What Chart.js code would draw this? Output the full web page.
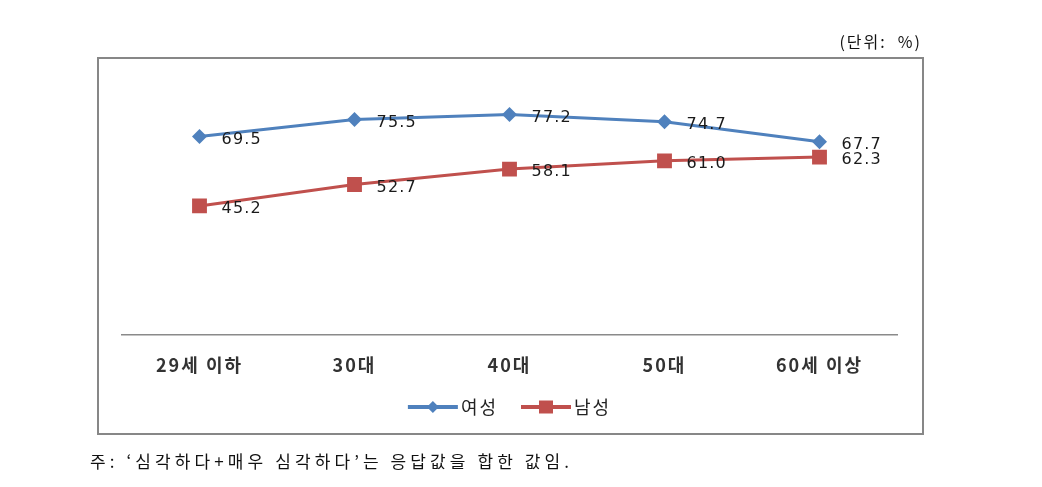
<!DOCTYPE html>
<html>
<head>
<meta charset="utf-8">
<script src="https://cdn.jsdelivr.net/npm/chart.js@4.4.1/dist/chart.umd.min.js"></script>
<style>
  html, body { margin: 0; padding: 0; background: #fff; }
  #wrap { position: relative; width: 1042px; height: 487px; }
  #c { position: absolute; left: 0; top: 0; }
  #box { position: absolute; left: 97px; top: 57px; width: 823px; height: 374px; border: 2px solid #878787; pointer-events: none; }
  #unit { position: absolute; right: 120px; top: 29px; font: 16px "Noto Sans CJK KR", sans-serif; color: #111; letter-spacing: 2px; }
  #note { position: absolute; left: 90px; top: 448px; font: 17px "Noto Sans CJK KR", serif; color: #111; letter-spacing: 4.1px; }
</style>
</head>
<body>
<div id="wrap">
  <canvas id="c" width="1042" height="487"></canvas>
  <div id="box"></div>
  <div id="unit">(단위:&nbsp; %)</div>
  <div id="note">주: ‘심각하다+매우 심각하다’는 응답값을 합한 값임.</div>
</div>
<script>
const categories = ['29세 이하', '30대', '40대', '50대', '60세 이상'];
const women = [69.5, 75.5, 77.2, 74.7, 67.7];
const men = [45.2, 52.7, 58.1, 61.0, 62.3];

const blue = '#4F81BD';
const red = '#C0504D';

// letter spacing so the text looks as wide as the reference
const spacing = {
  id: 'spacing',
  beforeUpdate(chart) { chart.ctx.letterSpacing = '2px'; },
  beforeDraw(chart) { chart.ctx.letterSpacing = '2px'; }
};

// value labels to the right of each point
const valueLabels = {
  id: 'valueLabels',
  afterDatasetsDraw(chart) {
    const ctx = chart.ctx;
    ctx.save();
    ctx.letterSpacing = '1.2px';
    ctx.font = '16px "DejaVu Sans", Verdana, sans-serif';
    ctx.fillStyle = '#1a1a1a';
    ctx.textBaseline = 'middle';
    ctx.textAlign = 'left';
    chart.data.datasets.forEach((ds, i) => {
      chart.getDatasetMeta(i).data.forEach((pt, j) => {
        ctx.fillText(ds.data[j].toFixed(1), pt.x + 22, pt.y + 3);
      });
    });
    ctx.restore();
  }
};

// legend: line with the marker in its middle (Excel style)
const legendMarks = {
  id: 'legendMarks',
  afterDraw(chart) {
    const lg = chart.legend;
    if (!lg || !lg.legendHitBoxes) return;
    const ctx = chart.ctx;
    lg.legendHitBoxes.forEach((hb, i) => {
      const ds = chart.data.datasets[i];
      const x0 = hb.left;
      const cx = x0 + 25;
      const cy = hb.top + hb.height / 2;
      ctx.save();
      ctx.strokeStyle = ds.borderColor;
      ctx.lineWidth = 4;
      ctx.beginPath();
      ctx.moveTo(x0, cy);
      ctx.lineTo(x0 + 50, cy);
      ctx.stroke();
      ctx.fillStyle = ds.borderColor;
      ctx.beginPath();
      if (ds.pointStyle === 'rectRot') {
        ctx.moveTo(cx - 6, cy); ctx.lineTo(cx, cy - 6); ctx.lineTo(cx + 6, cy); ctx.lineTo(cx, cy + 6);
        ctx.closePath();
      } else {
        ctx.rect(cx - 7, cy - 6.5, 14, 13);
      }
      ctx.fill();
      ctx.restore();
    });
  }
};

new Chart(document.getElementById('c'), {
  type: 'line',
  data: {
    labels: categories,
    datasets: [
      {
        label: '여성',
        data: women,
        borderColor: blue,
        backgroundColor: blue,
        borderWidth: 3,
        pointStyle: 'rectRot',
        pointRadius: 7.5,
        pointBorderWidth: 0,
        pointBackgroundColor: blue,
        tension: 0
      },
      {
        label: '남성',
        data: men,
        borderColor: red,
        backgroundColor: red,
        borderWidth: 3,
        pointStyle: 'rect',
        pointRadius: 10.5,
        pointBorderWidth: 0,
        pointBackgroundColor: red,
        tension: 0
      }
    ]
  },
  options: {
    responsive: false,
    animation: false,
    events: [],
    layout: { padding: { left: 122, right: 145, top: 78, bottom: 62 } },
    scales: {
      x: {
        offset: true,
        grid: { display: false, drawTicks: false },
        border: { display: true, color: '#8a8a8a', width: 1.5 },
        ticks: {
          padding: 19,
          color: '#333',
          font: { family: '"Noto Sans CJK KR", sans-serif', size: 18, weight: 'bold' }
        },
        afterFit(s) { s.height = 40; }
      },
      y: {
        display: false,
        min: 0,
        max: 90
      }
    },
    plugins: {
      legend: {
        position: 'bottom',
        maxHeight: 50,
        labels: {
          boxWidth: 44,
          boxHeight: 4,
          padding: 23,
          color: '#222',
          font: { family: '"Noto Sans CJK KR", sans-serif', size: 18 },
          generateLabels(chart) {
            return Chart.defaults.plugins.legend.labels.generateLabels(chart).map(l => {
              l.fillStyle = 'rgba(0,0,0,0)';
              l.strokeStyle = 'rgba(0,0,0,0)';
              l.lineWidth = 0;
              return l;
            });
          }
        }
      },
      tooltip: { enabled: false }
    }
  },
  plugins: [spacing, valueLabels, legendMarks]
});
</script>
</body>
</html>
